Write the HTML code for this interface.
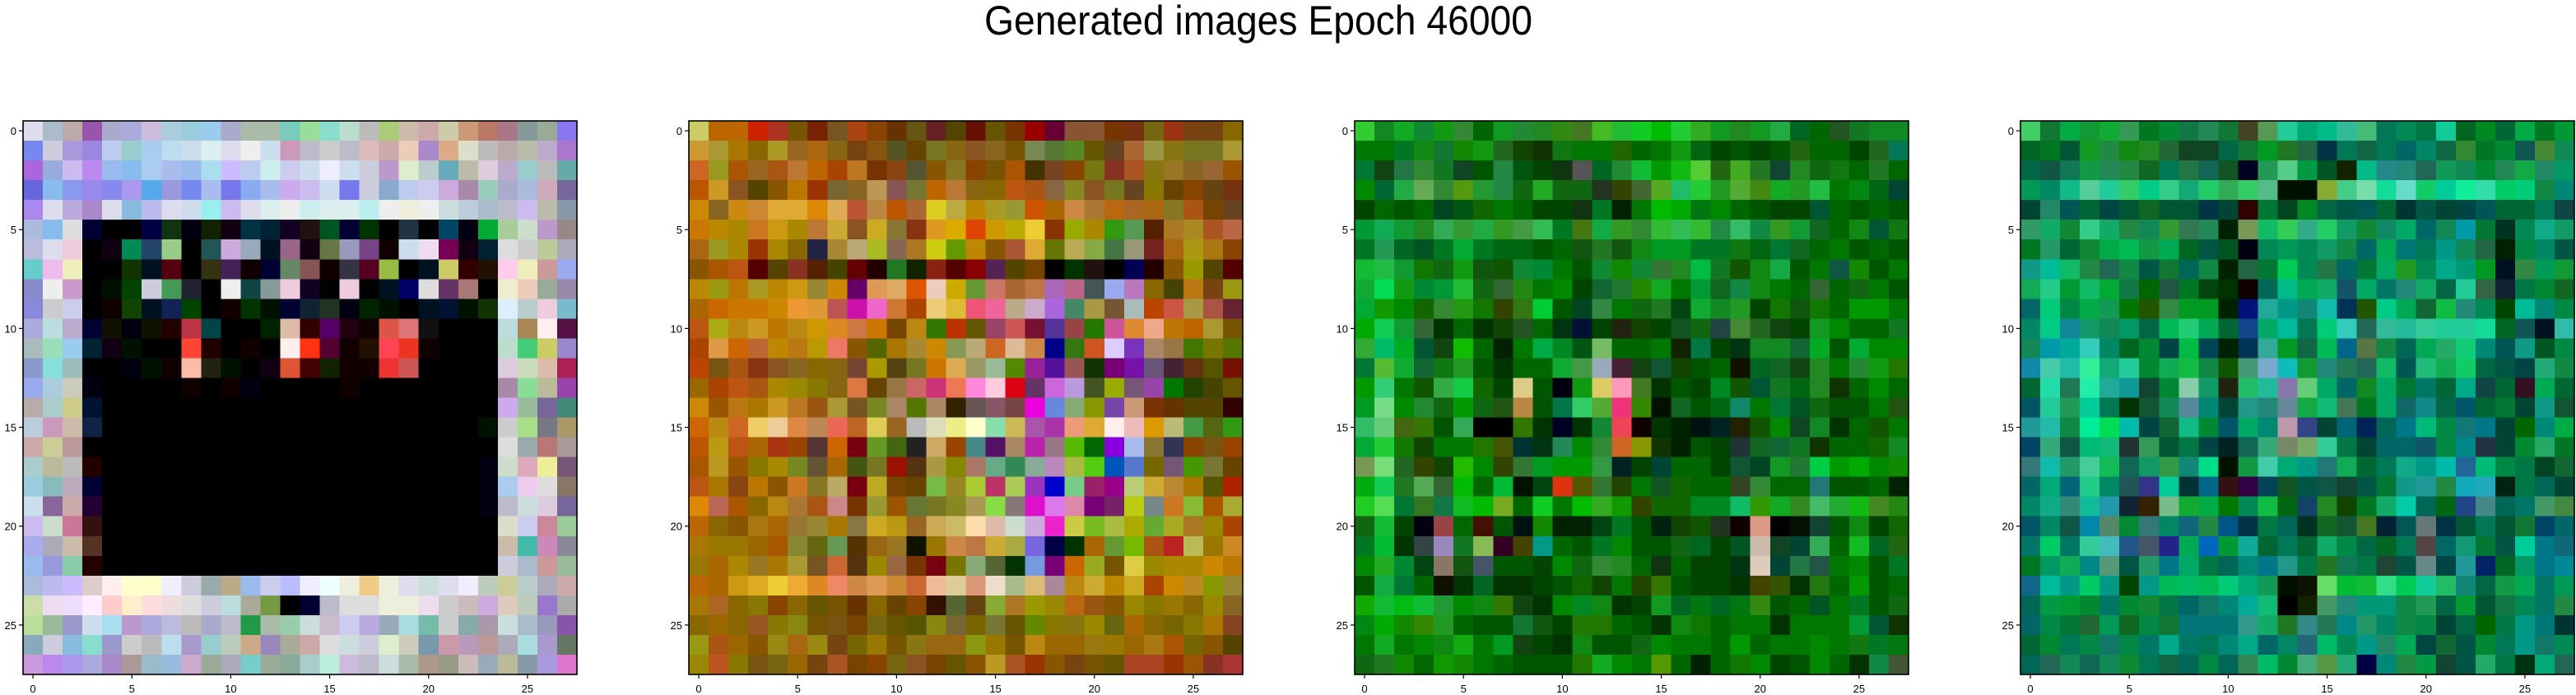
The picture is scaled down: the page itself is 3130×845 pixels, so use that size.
<!DOCTYPE html>
<html>
<head>
<meta charset="utf-8">
<style>
html,body{margin:0;padding:0;background:#fff;}
body{width:3130px;height:845px;overflow:hidden;position:relative;font-family:"Liberation Sans","DejaVu Sans",sans-serif;}
svg{position:absolute;left:0;top:0;}
</style>
</head>
<body>
<svg id="fig" width="3130" height="845" viewBox="0 0 3130 845">
  <text x="1529" y="42" font-size="50" text-anchor="middle" textLength="666" lengthAdjust="spacingAndGlyphs" font-family="Liberation Sans, DejaVu Sans, sans-serif" fill="#000">Generated images Epoch 46000</text>
</svg>
<script>
const tickValues = [0, 5, 10, 15, 20, 25];
const gridSize = 28;

const img1Rows = [
"dde abc baa 95a aac aad cbd acd 9cd 9ce aac aba aba 7cb 9d9 8dc bdc bbb ac7 cba caa cca c97 b76 a78 899 9a9 87e",
"78e ccd a9d 98d bce 9cc ace bde cde dee dde eee cde c9b bbc ccc bbc dbb caa ecb a8c da8 ddc bbb baa bba bac a7c",
"a6d 9ad cbe b8e 9be 8be ace abe 9be ade cbf bce cee cce cde eef cde ccd b9c dec bcc 6ab bba dcd bac 9cc bbb 6aa",
"66d 8be 89e 98e 88e a9e 5ae 99d 78e abe 77e 8ae abe cae cbe cde 77e ccd 8ac bce cce cad a8a 9cb aac abd cab 769",
"a8e dde bad a8c dde 8bd bbe dde cde 9ee cbe dde dee eee cee dee dee bee eee eed eee cdd bcd abc bbc cbe bba 89a",
"abd 8be ddd 003 000 000 004 131 001 120 101 034 023 102 211 052 003 030 000 234 000 046 001 0a3 ac9 cdc b9c 988",
"bbd dde ecd 000 101 085 246 9c8 000 255 cad 9ab 012 968 101 674 99b 748 100 cde ede 705 101 023 ddd ccc bc9 aab",
"6cc ebe eeb 000 000 130 012 501 000 331 425 100 003 686 855 100 334 502 9b4 000 012 cc6 300 210 fce eeb c99 9ae",
"88c eee c9c 000 010 040 ccd 495 223 000 eee 144 899 ecd 102 000 ecd 000 012 006 ddd 636 a77 000 eec ecb 9a9 98a",
"88d ccc cce 000 100 140 012 125 040 000 100 030 010 003 123 232 001 020 010 000 012 013 010 130 def bcc ecd 7bc",
"aad bdd bac 003 110 001 110 200 b34 044 000 000 020 dba 300 506 201 100 d54 d77 111 000 000 000 bdd a85 fee 514",
"abb 9db 9ce 023 101 010 000 000 f43 200 000 100 000 fee f31 503 100 210 f45 e32 100 000 000 000 bdc 4c7 cc6 98c",
"89c 8dd 9bb 000 000 001 010 100 fba 221 010 000 101 d53 400 120 100 100 e33 c55 000 000 000 000 dcd cdb dba a25",
"9ae acd ccb 001 000 000 000 000 100 000 100 001 000 000 000 000 100 000 000 000 000 000 000 000 a8a 8d9 bb9 94a",
"baa acc cc8 013 000 000 000 000 000 000 000 000 000 000 000 000 000 000 000 000 000 000 000 000 cae 9b9 769 487",
"bcd c9b cba 124 000 000 000 000 000 000 000 000 000 000 000 000 000 000 000 000 000 000 000 010 ccc ad8 778 a96",
"caa cc9 b99 000 000 000 000 000 000 000 000 000 000 000 000 000 000 000 000 000 000 000 000 000 ddd 9aa b77 a99",
"acc bb9 bbb 200 000 000 000 000 000 000 000 000 000 000 000 000 000 000 000 000 000 000 000 001 cdc dab ee9 757",
"9cd 8bb bab 003 000 000 000 000 000 000 000 000 000 000 000 000 000 000 000 000 000 000 000 001 ace ece ddd 876",
"cde 869 caa 203 000 000 000 000 000 000 000 000 000 000 000 000 000 000 000 000 000 000 000 001 bbc cdd dcd 769",
"cbe cdc c79 311 000 000 000 000 000 000 000 000 000 000 000 000 000 000 000 000 000 000 000 000 ddc cce c89 9c9",
"aae aab cba 532 000 000 000 000 000 000 000 000 000 000 000 000 000 000 000 000 000 000 000 000 cba 4ba c8b 889",
"9be 99d 8ca 200 000 000 000 000 000 000 000 000 000 000 000 000 000 000 000 000 000 000 000 000 ccd abc c99 9b9",
"abd bbe cbf dcc fee ffc ffc eef ccd 9aa ba8 9be cce bbf eef eff eed ec8 eed dde cdd dde eef bcb cc9 bcc aab caa",
"cda ede edf fef fcc fec fdd edd ddd ccd bdd aa9 794 000 003 bbc ddd ddd eed eed ede ccc cbb cad dcb bcb 97c aaa",
"bd9 9b9 99c cde ade b9c aad bbd bbb aac bbc 294 aba 9ca cdd cbc cce bad 9ab add 7ba ccc 8aa a9a cdd abc 99b 85a",
"8ab ccd 8bd 8dc 99c ccc bbb bde a9c 9cc bcb ca8 98b aa9 caa ddd cdd ccd dec ccb 79a c9a b9b b99 aab add a9c 676",
"c9d b8e a9e aad a8c a99 9bc 9bd cac 9a9 aab 7cc 9a9 8a9 acc bed cbd bbc cdd aba a98 998 cbb 9ab bb9 89a a9d d7c"
];

const img2Rows = [
"cc6 b60 b60 c20 a32 750 720 752 a41 840 630 651 622 540 610 650 730 900 603 853 853 730 731 761 931 741 741 860",
"c93 a93 a70 860 a92 962 a61 861 741 851 552 640 772 861 852 862 750 785 573 582 650 642 a63 994 871 772 772 a93",
"c62 992 a50 962 a51 b73 b60 a40 b72 730 841 553 850 872 840 750 a50 430 742 840 771 832 a52 871 972 862 963 950",
"b50 c92 852 540 850 b70 930 763 862 b95 855 773 b60 b73 861 860 b51 a51 864 882 852 772 642 870 640 840 641 731",
"c80 862 c81 c83 da3 da3 d80 da5 b53 b84 b50 a63 dc2 ba4 b80 a92 993 c50 a60 c84 a73 b61 a62 a61 872 a51 740 642",
"c70 b80 a80 c72 c91 a80 b73 ca3 852 ca2 873 831 d92 da0 d40 c90 ba0 ec3 830 9a0 a80 391 595 520 a72 a82 a52 b64",
"a61 992 a80 930 a80 860 224 a83 ba7 ab2 865 a72 cc1 690 b80 850 a53 da3 670 ba5 8a4 474 997 722 a61 a91 a71 840",
"850 a50 b51 500 540 832 520 440 600 200 272 120 821 500 800 525 540 740 000 030 211 000 005 200 850 990 540 500",
"b80 991 b70 a92 b80 c91 983 c80 606 d95 da6 d50 ecb ca0 693 c76 a63 b74 a6b b68 455 9ae b7b 860 440 b71 741 991",
"a60 c60 c70 c70 c80 e93 d93 b55 c1a e6c c73 a40 ec7 db3 e57 e69 ba8 cac a6d 486 a94 753 abb b40 c54 a94 a54 623",
"b51 aa1 b81 c92 b70 b81 c90 d82 c74 c70 740 b81 370 b30 650 946 c55 713 539 944 270 c59 d83 ea8 b70 b60 a93 750",
"a40 d94 c60 b63 b80 b71 b90 e76 850 560 a70 a83 c80 895 ba7 c62 db9 c84 008 371 c52 dcf 73b a86 974 470 770 570",
"b40 751 a51 831 852 862 860 861 743 a90 541 772 c70 da5 996 9b9 580 929 519 955 130 707 71a 657 423 631 550 710",
"960 a40 b51 a51 a80 980 870 861 d74 640 974 c66 c37 e75 f8d fcd d01 636 c6d b9d 452 9a0 757 94a 070 240 440 650",
"c80 950 b71 a70 c92 b72 951 a93 752 782 a86 570 a86 320 655 856 744 e0d 68d 8a7 890 74a c97 730 630 540 540 300",
"c60 b81 c62 ec6 ec9 d84 b85 e65 b62 dc5 962 bbb ddb ee8 ffc 8da cb5 a5a a3a e97 da3 fee ebb d90 bb7 494 561 391",
"b50 b91 b51 a60 a31 940 533 c60 701 692 461 222 ca6 940 488 516 a86 b2a 978 5b0 060 80d abe 873 335 840 751 940",
"a50 b92 950 870 a80 782 653 a60 451 772 910 531 a94 880 a76 6a8 385 8a9 b8b ab4 5c1 05b 57c 760 757 490 773 640",
"b51 a70 841 b70 850 c72 872 ba6 701 ba2 740 640 7b4 982 ac3 b36 ac5 93b 00c 7c8 926 908 bc7 ca3 b83 a70 550 a20",
"d80 b65 a50 860 b81 a73 a51 c88 730 993 950 673 772 882 a95 8d4 877 d1c d7e d8a 707 726 bc1 788 c72 8b3 a50 aa3",
"b60 860 850 a71 a60 973 983 a70 874 ca2 b91 962 ca5 cb6 fda dba cdc cad e2c cc4 7b2 ab4 aa0 6a3 aa2 a72 980 a40",
"a70 970 970 960 a50 883 661 695 530 961 972 110 970 c84 b74 ca3 aa4 76d 004 030 a60 693 7b0 a51 b22 bb5 970 c82",
"970 a60 a80 972 a70 a93 752 c63 531 980 964 730 701 770 8a7 563 030 79d 707 c60 9a2 750 dc4 980 a80 a80 c80 b70",
"b60 a60 c91 da2 ec3 ea3 d82 e86 c84 d95 c83 c63 eb9 dc9 d97 edc ab8 db7 a89 b81 ca3 b80 ca2 a40 c80 b82 890 983",
"a70 a62 860 870 840 860 650 750 630 860 640 840 310 563 641 8a3 a72 990 980 b61 951 850 980 870 970 860 980 862",
"860 960 860 952 870 881 750 751 740 761 650 550 881 763 760 773 650 680 870 871 980 661 a60 860 760 870 a70 842",
"991 a51 960 850 981 a61 981 741 760 970 750 871 961 961 891 970 750 b81 960 960 971 970 960 a71 a50 760 850 540",
"980 b52 870 751 761 960 741 a52 740 840 761 852 740 650 850 b92 a52 930 850 741 750 650 a42 a42 930 950 832 a33"
];

const img3Rows = [
"3c3 182 1a2 183 191 383 060 192 283 282 381 472 4b2 2b3 1c2 0b0 2c3 3a2 192 282 192 2a4 062 060 252 172 182 182",
"070 070 072 181 173 180 191 262 140 130 171 070 070 260 060 070 191 061 040 050 040 050 261 060 060 040 262 075",
"073 141 274 383 172 142 050 284 051 040 131 555 062 283 1b3 090 1b1 5c3 261 4a2 272 143 282 161 171 060 272 060",
"080 063 2a4 6a5 383 591 293 284 161 2a2 161 161 232 340 463 5a2 2b6 2c3 292 5a3 481 1a2 292 2b4 070 081 061 043",
"040 060 050 060 042 051 160 070 060 040 040 131 072 020 070 0b0 0a0 071 080 060 050 040 040 053 060 050 060 050",
"093 1a5 193 282 3a5 393 2a4 392 494 3b5 072 471 1a4 392 383 3b3 3b5 3b3 284 3b6 184 392 193 162 060 181 053 171",
"072 295 062 052 072 0a3 072 061 061 050 060 151 272 151 181 092 092 072 072 171 061 073 162 060 070 050 060 050",
"1b3 2b4 193 170 161 191 151 150 183 083 070 050 183 180 183 373 282 0b4 172 150 181 1a4 050 070 154 180 050 070",
"1a3 0d5 191 083 093 2b3 161 363 281 070 080 040 163 273 280 1a2 070 093 162 184 181 070 060 363 060 161 070 050",
"0a3 190 080 160 383 291 170 340 371 0c3 050 042 384 070 161 272 041 1a3 182 292 040 170 151 170 060 090 090 070",
"0a0 1c5 193 363 030 060 030 140 252 060 031 013 040 221 140 040 152 161 244 483 262 141 040 192 080 060 060 172",
"3a3 0b6 0a2 053 141 1b0 060 020 070 0a4 082 051 7b6 060 060 070 120 074 040 031 182 182 163 0a2 050 0a3 080 080",
"073 5b3 1a3 163 171 292 050 030 060 060 1a3 494 9ab 423 141 153 140 050 060 110 062 162 141 282 070 283 191 270",
"090 3c7 070 150 3a4 1c4 160 040 dc8 050 001 191 dc6 f9b 472 030 050 040 082 150 053 172 061 282 130 060 080 060",
"092 7d8 080 283 161 090 161 251 b84 050 074 3c6 5a3 e37 380 010 162 050 061 186 070 073 052 161 050 050 070 251",
"3b6 6c7 461 370 050 3a5 000 000 370 030 002 030 183 e45 100 030 020 011 022 220 150 080 142 182 030 060 150 070",
"0a3 2c3 170 140 070 070 270 450 033 031 285 080 383 c62 890 130 020 050 040 233 162 163 172 130 060 060 160 182",
"795 7d7 262 340 140 2b0 080 340 373 092 090 090 394 022 040 043 060 060 040 153 042 192 273 0c4 090 0a0 080 180",
"0a1 1c5 272 5a5 363 0b0 060 0b3 010 041 d31 550 373 240 070 152 160 060 060 342 383 060 060 277 050 050 060 020",
"2c2 5d5 073 372 174 1b2 0b0 7a2 060 1c2 070 0b0 3a2 190 340 160 160 082 082 1b6 390 1a2 382 4b6 2a3 1b1 482 281",
"161 1b3 040 001 944 060 410 050 011 180 020 020 041 072 050 021 140 150 232 100 d98 000 010 143 050 181 040 160",
"072 0b3 030 344 98b 172 8b5 302 440 098 060 050 072 080 050 050 161 062 040 052 cba 142 043 3a5 060 1b2 062 261",
"080 2a2 083 041 876 151 456 050 050 040 080 161 383 282 060 131 060 040 040 031 dcb 043 274 254 070 080 050 072",
"050 1a4 073 060 110 030 062 030 030 040 050 160 140 070 240 370 050 040 040 030 440 350 030 271 060 090 050 060",
"1a0 1b3 0b1 1b3 293 080 181 370 141 030 080 082 181 030 040 192 062 071 062 071 381 050 060 052 070 072 050 161",
"081 0a0 180 380 292 060 050 050 173 151 040 270 270 060 050 030 181 170 060 070 070 030 070 070 070 093 053 130",
"070 1a2 070 080 181 1a1 070 092 141 040 030 181 050 050 161 080 070 070 060 090 060 070 070 080 070 171 072 071",
"161 272 180 060 190 180 070 060 050 050 050 270 1a2 080 070 590 060 020 060 170 080 040 050 080 060 030 184 453"
];

const img4Rows = [
"4c6 173 0a4 193 1a3 395 072 083 174 285 173 442 595 2c9 0a7 0b8 3b9 4b7 075 085 074 1c9 062 082 063 0a4 072 093",
"062 072 053 192 284 181 282 263 142 142 064 173 092 272 264 034 075 164 075 066 086 164 383 072 083 155 483 185",
"064 154 175 194 285 284 162 075 274 165 152 002 295 5c8 094 052 120 0b8 288 287 265 195 185 083 285 1a4 286 096",
"095 086 1b8 5c9 2c9 3c6 0c8 3c8 1a7 2c6 3a5 3c6 5b8 010 010 8a3 4c8 7da 1d9 6dc 1c6 0c9 1e9 3da 0c6 0c7 184 087",
"043 286 055 063 044 053 162 053 053 034 043 300 073 042 082 064 054 055 063 033 054 043 044 055 063 063 075 144",
"396 1a6 183 3c8 1a6 284 185 393 375 285 020 795 1b6 3c5 3a8 2c6 196 183 186 0a6 066 185 09a 073 032 085 1a8 196",
"072 296 063 183 0a4 0b5 194 0a5 062 054 052 001 085 095 085 196 184 066 0a5 077 075 098 185 264 020 084 086 054",
"198 0b9 1b6 284 265 184 054 173 065 184 020 264 073 0c5 085 274 066 073 0a6 292 085 0a8 097 092 012 384 095 193",
"1a5 2c8 093 1b6 0a3 174 060 254 072 041 030 100 065 0b8 0a5 1a6 156 0a6 076 287 1a6 064 2c9 364 123 074 083 162",
"066 0c7 084 0a4 195 070 250 384 092 092 020 017 2a9 098 187 1ba 035 250 0c8 0a5 163 1b4 287 085 040 0b9 087 084",
"086 0c8 189 196 185 096 064 0b5 2c7 0a5 063 148 0a6 0b9 075 0c7 3cb 265 3b9 2b9 3c9 2c9 2c9 1d9 062 155 012 3ba",
"185 09a 0a9 3cb 086 062 083 044 0b4 045 020 035 3a9 092 164 0b5 068 574 184 065 0a5 2a6 1c7 087 055 198 052 084",
"18a 4ca 2ba 3e9 1a7 2c9 083 1a5 1b4 184 150 497 7ac 1bb 193 287 275 265 1b6 055 2b7 1a5 1c6 064 054 044 2a7 184",
"063 2da 275 2ea 2a9 199 143 083 8ca 196 221 2b6 2b9 87a 6c7 0a6 066 182 0a6 073 076 063 0a8 144 063 312 0a5 063",
"056 2c9 295 0c9 075 030 153 185 589 087 043 298 287 689 1a4 1b7 475 072 0a6 166 188 064 056 063 073 043 198 153",
"299 2ba 184 0e9 0d5 0ba 044 163 1b8 083 056 0a6 087 b9a 348 043 067 025 065 078 0b7 084 177 078 043 060 087 0a4",
"046 3a7 154 0b7 1b7 233 395 053 074 044 022 165 3a7 786 7a6 3c9 074 043 066 066 156 084 088 234 043 083 2a6 072",
"377 1ba 296 4c9 1b5 165 196 394 187 0d8 010 194 4ca 0a7 098 277 1a5 063 075 1a8 098 0ba 269 0b7 084 074 042 163",
"066 0a7 067 2c8 086 255 338 0c9 033 068 311 304 045 152 054 154 143 054 073 198 299 284 1ab 2ab 021 074 065 043",
"086 1a8 387 1b9 29a 123 320 7b8 1a3 0a4 070 085 1b4 061 146 282 140 072 1a6 0ca 065 061 248 488 065 076 496 484",
"056 086 154 08a 586 083 377 086 167 284 058 034 074 065 032 162 153 472 023 055 677 034 053 075 053 173 046 066",
"076 0c6 076 3c9 4bb 258 456 228 0a5 06b 093 1a9 063 075 063 1a6 084 064 062 075 544 066 197 073 054 0c9 078 167",
"072 096 1a5 088 597 054 296 078 0a6 074 065 087 078 298 074 272 175 074 243 054 688 044 299 026 062 096 078 089",
"168 0b9 098 0c6 098 040 098 0b5 0b6 0b5 0c7 0a7 195 010 110 6d6 0b3 1b3 3d8 0c5 1c9 2b6 187 064 194 0a5 076 095",
"065 094 093 083 076 083 183 074 066 176 087 0a9 1b7 000 120 496 287 097 097 184 295 064 093 053 174 085 076 284",
"066 084 073 263 095 162 084 173 077 077 077 398 1a6 272 388 275 088 296 086 184 084 043 064 060 074 098 077 033",
"063 083 075 084 176 084 076 0a8 076 075 087 0a8 066 086 267 0b6 085 098 286 0a5 044 163 054 083 075 098 176 085",
"065 265 185 165 185 183 075 164 065 084 065 385 0b6 083 4a7 594 2a7 004 087 284 094 143 054 2a6 074 031 0a7 265"
];

const images = [img1Rows, img2Rows, img3Rows, img4Rows];
const panelNames = ['generated-image-1', 'generated-image-2', 'generated-image-3', 'generated-image-4'];

const NS = 'http://www.w3.org/2000/svg';
const fig = document.getElementById('fig');
const axLefts = [28, 837, 1646, 2455];
const axTop = 147, axSize = 673;
const cell = axSize / gridSize;

function xScale(left, i) { return left + i * cell; }
function yScale(j) { return axTop + j * cell; }

images.forEach(function (rows, k) {
  const left = axLefts[k];
  const g = document.createElementNS(NS, 'g');
  
  
  g.setAttribute('shape-rendering', 'crispEdges');
  fig.appendChild(g);
  rows.forEach(function (row, r) {
    const cols = row.trim().split(/\s+/);
    cols.forEach(function (c, ci) {
      const rect = document.createElementNS(NS, 'rect');
      
      
      rect.setAttribute('x', xScale(left, ci).toFixed(2));
      rect.setAttribute('y', yScale(r).toFixed(2));
      rect.setAttribute('width', (cell + 0.6).toFixed(2));
      rect.setAttribute('height', (cell + 0.6).toFixed(2));
      rect.setAttribute('fill', '#' + c);
      g.appendChild(rect);
    });
  });
  const frame = document.createElementNS(NS, 'rect');
  
  
  frame.setAttribute('x', left);
  frame.setAttribute('y', axTop);
  frame.setAttribute('width', Math.min(axSize, 3129 - left));
  frame.setAttribute('height', axSize);
  frame.setAttribute('fill', 'none');
  frame.setAttribute('stroke', '#000');
  frame.setAttribute('stroke-width', '1.6');
  fig.appendChild(frame);

  tickValues.forEach(function (v) {
    const px = xScale(left, v + 0.5);
    const py = yScale(v + 0.5);
    const xt = document.createElementNS(NS, 'line');
    
    
    xt.setAttribute('x1', px); xt.setAttribute('x2', px);
    xt.setAttribute('y1', axTop + axSize); xt.setAttribute('y2', axTop + axSize + 5);
    xt.setAttribute('stroke', '#000'); xt.setAttribute('stroke-width', '1.2');
    fig.appendChild(xt);
    const xl = document.createElementNS(NS, 'text');
    
    
    xl.setAttribute('x', px); xl.setAttribute('y', axTop + axSize + 22);
    xl.setAttribute('font-size', '13'); xl.setAttribute('text-anchor', 'middle');
    xl.textContent = v;
    fig.appendChild(xl);
    const yt = document.createElementNS(NS, 'line');
    
    
    yt.setAttribute('x1', left - 5); yt.setAttribute('x2', left);
    yt.setAttribute('y1', py); yt.setAttribute('y2', py);
    yt.setAttribute('stroke', '#000'); yt.setAttribute('stroke-width', '1.2');
    fig.appendChild(yt);
    const yl = document.createElementNS(NS, 'text');
    
    
    yl.setAttribute('x', left - 8); yl.setAttribute('y', py + 5);
    yl.setAttribute('font-size', '13'); yl.setAttribute('text-anchor', 'end');
    yl.textContent = v;
    fig.appendChild(yl);
  });
});
</script>
</body>
</html>
